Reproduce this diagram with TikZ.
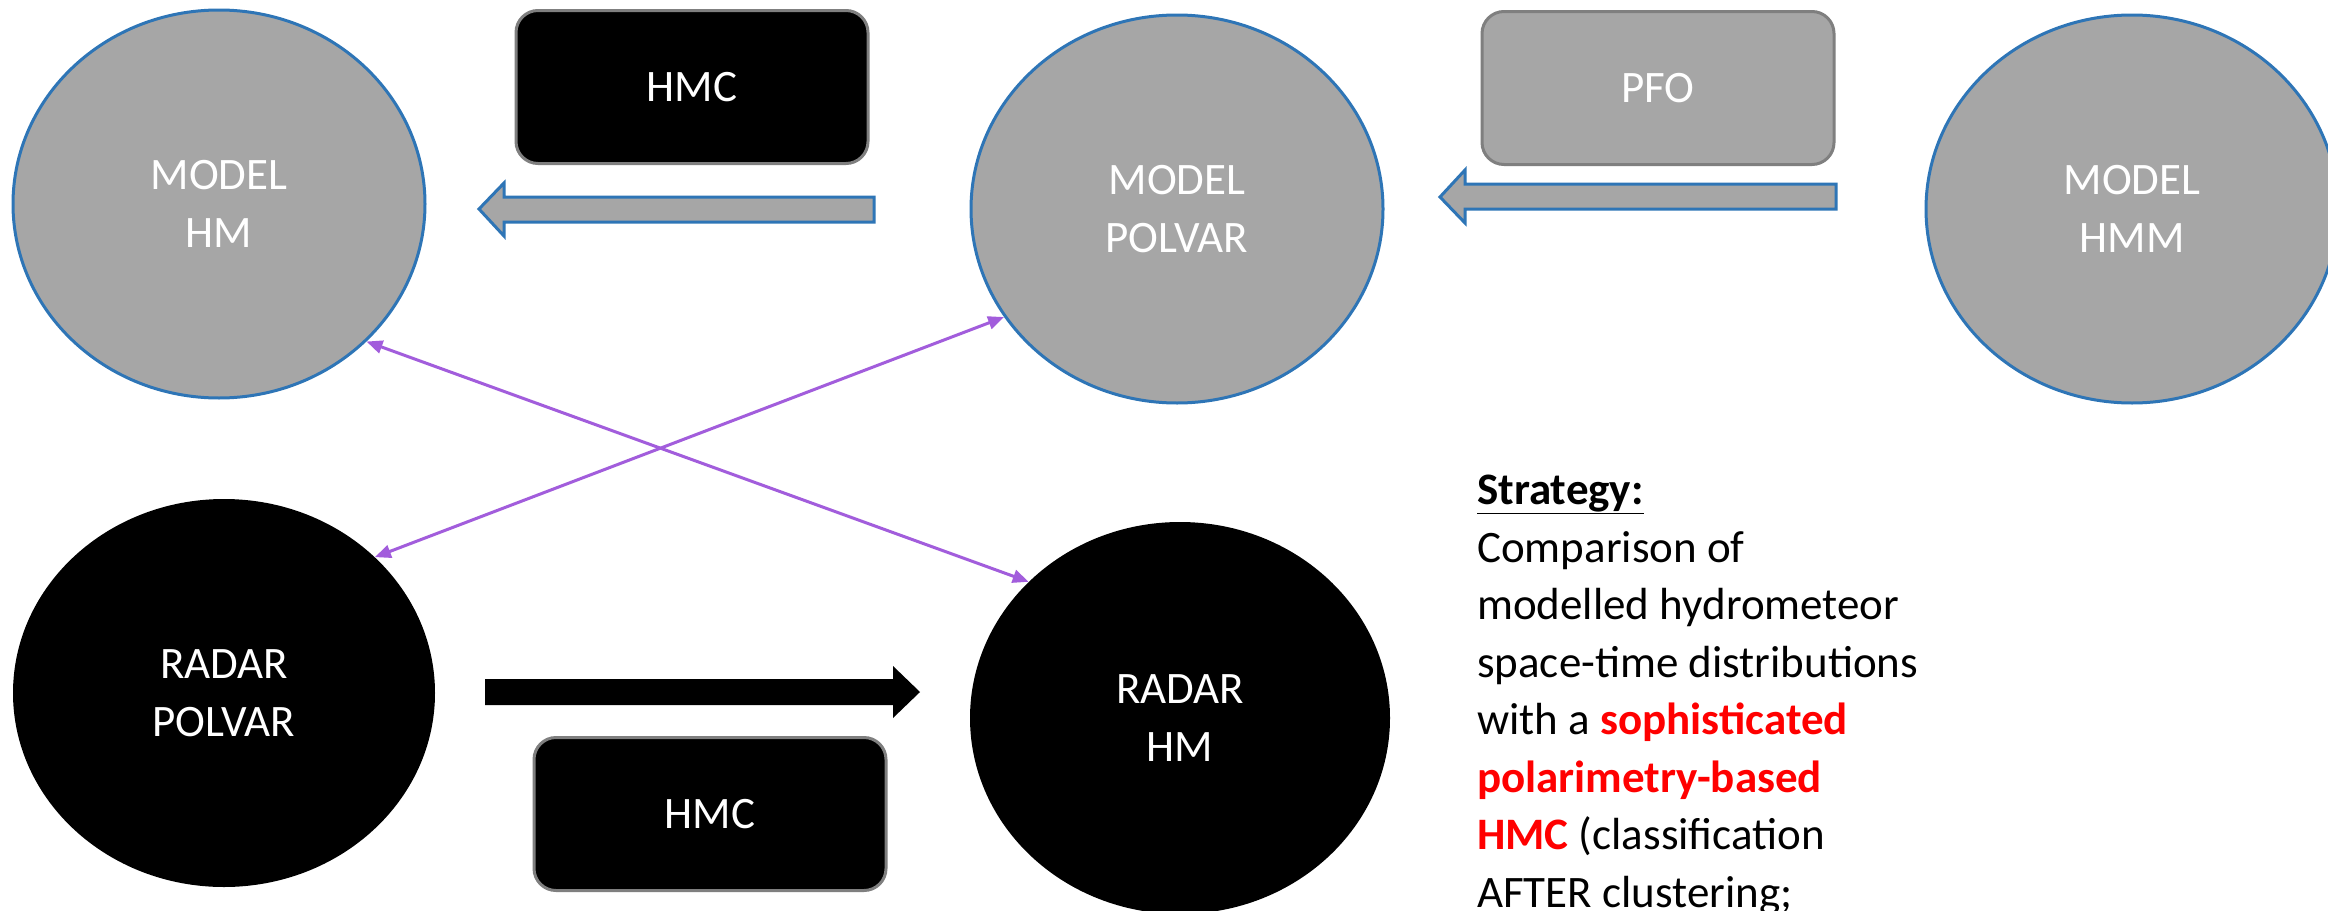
\documentclass[tikz,border=0pt]{standalone}
\usepackage{fontspec}
\setmainfont{Carlito}
\usetikzlibrary{shapes.geometric,arrows.meta}

\definecolor{modelgray}{HTML}{A6A6A6}
\definecolor{rimblue}{HTML}{2E75B6}
\definecolor{boxrim}{HTML}{7F7F7F}
\definecolor{linkpurple}{HTML}{A25DDC}
\definecolor{hotred}{HTML}{FF0000}

\begin{document}
\begin{tikzpicture}[x=1pt,y=-1pt,font=\fontsize{45}{57.5}\selectfont]

    \clip (0,0) rectangle (2328,910);
    \fill[white] (0,0) rectangle (2328,910);

    \begin{scope}[every node/.style={ellipse,inner sep=0pt,minimum width=412pt,minimum height=388pt,align=center,text=white}]
        \node[fill=modelgray,draw=rimblue,line width=3pt] (mhm) at (219,204) {MODEL\\HM};
        \node[fill=modelgray,draw=rimblue,line width=3pt] (mpolvar) at (1177,209) {MODEL\\POLVAR};
        \node[fill=modelgray,draw=rimblue,line width=3pt] (mhmm) at (2132,209) {MODEL\\HMM};
        \node[fill=black,minimum width=422pt] (rpolvar) at (224,693) {RADAR\\POLVAR};
        \node[fill=black,minimum width=420pt,minimum height=392pt] (rhm) at (1180,718) {RADAR\\HM};
    \end{scope}

    \begin{scope}[every node/.style={rectangle,rounded corners=22pt,draw=boxrim,line width=3pt,minimum width=352pt,minimum height=153pt,text=white}]
        \node[fill=black] (hmctop) at (692,87) {HMC};
        \node[fill=modelgray] (pfo) at (1658,88) {PFO};
        \node[fill=black] (hmcbot) at (710,814) {HMC};
    \end{scope}

    % block arrows
    \filldraw[fill=modelgray,draw=rimblue,line width=3pt] (479,209) -- (504,183) -- (504,197) -- (874,197) -- (874,222) -- (504,222) -- (504,236) -- cycle;
    \filldraw[fill=modelgray,draw=rimblue,line width=3pt] (1440,197) -- (1465,170) -- (1465,184) -- (1836,184) -- (1836,209) -- (1465,209) -- (1465,223) -- cycle;
    \fill[black] (485,679) -- (893,679) -- (893,666) -- (920,692) -- (893,718) -- (893,705) -- (485,705) -- cycle;

    \begin{scope}[every edge/.style={draw=linkpurple,line width=3pt}]
        \path [{Triangle[length=16pt,width=13pt]}-{Triangle[length=16pt,width=13pt]}] (mhm.-43) edge (rhm.138.6);
        \path [{Triangle[length=16pt,width=13pt]}-{Triangle[length=16pt,width=13pt]}] (mpolvar.212) edge (rpolvar.42);
    \end{scope}

    \node[anchor=base west,align=left,inner sep=0pt] (strategy) at (1477,907) {\underline{\textbf{Strategy:}}\\Comparison of\\modelled hydrometeor\\space-time distributions\\with a \textcolor{hotred}{\textbf{sophisticated}}\\\textcolor{hotred}{\textbf{polarimetry-based}}\\\textcolor{hotred}{\textbf{HMC}} (classification\\AFTER clustering;};

\end{tikzpicture}
\end{document}
